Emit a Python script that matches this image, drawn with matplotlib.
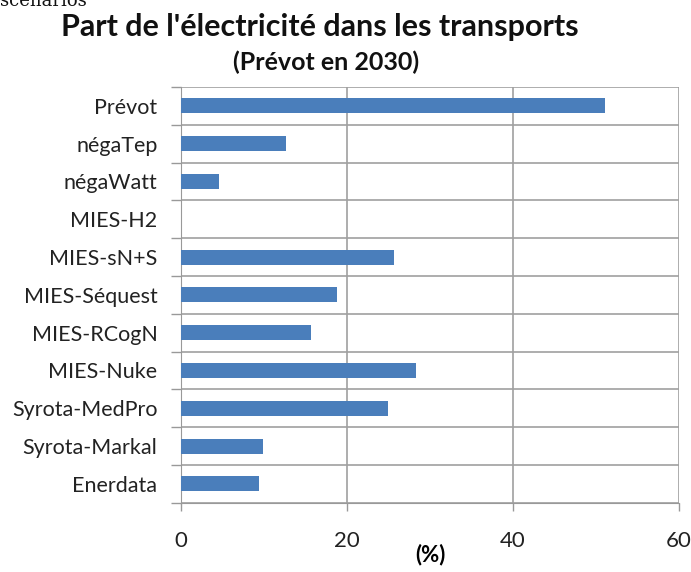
import matplotlib
matplotlib.use("Agg")
from matplotlib import pyplot as plt

plt.rcParams['font.family'] = ['Lato', 'DejaVu Sans']

scenarios = ['Prévot', 'négaTep', 'négaWatt', 'MIES-H2', 'MIES-sN+S',
             'MIES-Séquest', 'MIES-RCogN', 'MIES-Nuke', 'Syrota-MedPro',
             'Syrota-Markal', 'Enerdata']
part_elec = [51.1, 12.7, 4.6, 0, 25.7, 18.8, 15.7, 28.3, 24.9, 9.9, 9.4]
x_ticks = [0, 20, 40, 60]

fig = plt.figure(figsize=(6.91, 5.72), dpi=100)
ax = fig.add_axes([0.262, 0.121, 0.7206, 0.727])

pos = list(range(len(scenarios)))
ax.barh(pos, part_elec, height=0.4, color='#4a7ebb', zorder=3)
ax.set_ylim(len(scenarios) - 0.5, -0.5)
ax.set_xlim(0, 60)

# gridlines between categories + vertical value gridlines
ax.set_yticks([p - 0.5 for p in pos] + [len(scenarios) - 0.5])
ax.set_yticklabels([])
ax.set_yticks(pos, minor=True)
ax.set_yticklabels(scenarios, minor=True, fontsize=15.5, color='#222222')
ax.tick_params(axis='y', which='minor', length=0, pad=17)
ax.tick_params(axis='y', which='major', length=7, color='#999999', width=1)
ax.set_xticks(x_ticks)
ax.set_xticklabels([str(t) for t in x_ticks], fontsize=16, color='#222222')
ax.tick_params(axis='x', length=6, color='#999999', width=1, pad=14)
ax.grid(True, which='major', color='#a0a0a0', linewidth=1.2, zorder=0)

for s in ['top', 'right']:
    ax.spines[s].set_visible(False)
ax.spines['left'].set_color('#999999')
ax.spines['bottom'].set_color('#999999')

ax.set_xlabel('(%)', fontsize=16, fontweight='bold', labelpad=-5)

fig.text(0.463, 0.953, "Part de l'électricité dans les transports", ha='center',
         va='center', fontsize=22, fontweight='bold', color='#111111')
fig.text(0.4725, 0.891, '(Prévot en 2030)', ha='center', va='center',
         fontsize=18, fontweight='bold', color='#111111')
fig.text(0.0, 0.998, 'scenarios', ha='left', va='center', fontsize=13,
         family='DejaVu Serif', color='#111111')

fig.savefig('out.png', dpi=100)
